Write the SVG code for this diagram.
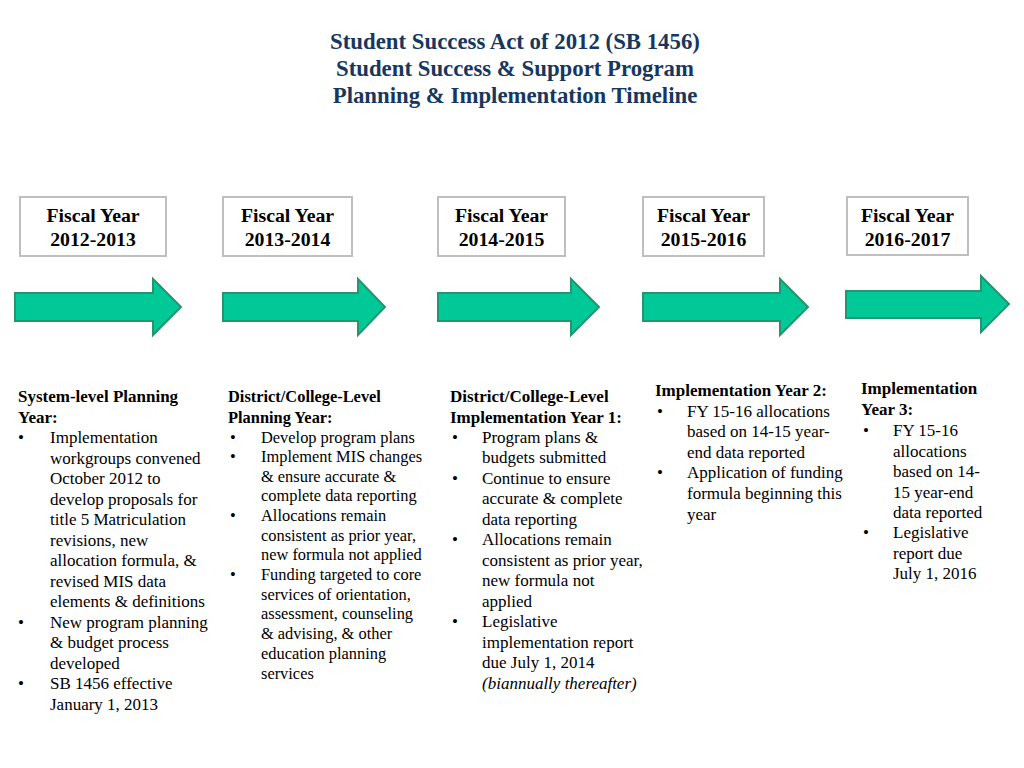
<svg xmlns="http://www.w3.org/2000/svg" width="1024" height="768" viewBox="0 0 1024 768">
<style>
.title{font-family:"Liberation Serif",serif;font-weight:bold;font-size:22.8px;fill:#17375E;text-anchor:middle}
.box{fill:#fff;stroke:#bfbfbf;stroke-width:2}
.fy{font-family:"Liberation Serif",serif;font-weight:bold;font-size:19.8px;fill:#000;text-anchor:middle}
.arrow{fill:#00C896;stroke:#25956F;stroke-width:2}
.t{font-family:"Liberation Serif",serif;font-size:17px;fill:#000}
.t2{font-family:"Liberation Serif",serif;font-size:16.4px;fill:#000}
.h{font-weight:bold}
.i{font-style:italic}
</style>
<rect width="1024" height="768" fill="#fff"/>
<g id="title">
<text class="title" x="515" y="49">Student Success Act of 2012 (SB 1456)</text>
<text class="title" x="515" y="76">Student Success &amp; Support Program</text>
<text class="title" x="515" y="103">Planning &amp; Implementation Timeline</text>
</g>
<g id="fy1">
<rect class="box" x="20" y="197" width="146" height="59"/>
<text class="fy" x="93" y="222">Fiscal Year</text>
<text class="fy" x="93" y="246">2012-2013</text>
</g>
<g id="fy2">
<rect class="box" x="223" y="197" width="129" height="59"/>
<text class="fy" x="287.5" y="222">Fiscal Year</text>
<text class="fy" x="287.5" y="246">2013-2014</text>
</g>
<g id="fy3">
<rect class="box" x="438" y="197" width="127" height="59"/>
<text class="fy" x="501.5" y="222">Fiscal Year</text>
<text class="fy" x="501.5" y="246">2014-2015</text>
</g>
<g id="fy4">
<rect class="box" x="643" y="197" width="121" height="59"/>
<text class="fy" x="703.5" y="222">Fiscal Year</text>
<text class="fy" x="703.5" y="246">2015-2016</text>
</g>
<g id="fy5">
<rect class="box" x="847" y="197" width="121" height="58"/>
<text class="fy" x="907.5" y="222">Fiscal Year</text>
<text class="fy" x="907.5" y="246">2016-2017</text>
</g>
<g id="connectors">
<polygon class="arrow" points="15,293 153,293 153,279 181,307 153,335 153,321 15,321"/>
<polygon class="arrow" points="223,293 358,293 358,279 385,307 358,335 358,321 223,321"/>
<polygon class="arrow" points="438,293 571,293 571,279 599,307 571,335 571,321 438,321"/>
<polygon class="arrow" points="643,293 780,293 780,279 808,307 780,335 780,321 643,321"/>
<polygon class="arrow" points="846,291 981,291 981,276 1009,304 981,332 981,318 846,318"/>
</g>
<g id="col1" class="t">
<text x="18" y="402" class="h">System-level Planning</text>
<text x="18" y="423" class="h">Year:</text>
<text x="18" y="443">•</text><text x="50" y="443">Implementation</text>
<text x="50" y="464">workgroups convened</text>
<text x="50" y="484">October 2012 to</text>
<text x="50" y="505">develop proposals for</text>
<text x="50" y="525">title 5 Matriculation</text>
<text x="50" y="546">revisions, new</text>
<text x="50" y="566">allocation formula, &amp;</text>
<text x="50" y="587">revised MIS data</text>
<text x="50" y="607">elements &amp; definitions</text>
<text x="18" y="628">•</text><text x="50" y="628">New program planning</text>
<text x="50" y="648">&amp; budget process</text>
<text x="50" y="669">developed</text>
<text x="18" y="689">•</text><text x="50" y="689">SB 1456 effective</text>
<text x="50" y="710">January 1, 2013</text>
</g>
<g id="col2" class="t2">
<text x="228" y="402" class="h">District/College-Level</text>
<text x="228" y="423" class="h">Planning Year:</text>
<text x="230" y="443">•</text><text x="261" y="443">Develop program plans</text>
<text x="230" y="462">•</text><text x="261" y="462">Implement MIS changes</text>
<text x="261" y="482">&amp; ensure accurate &amp;</text>
<text x="261" y="501">complete data reporting</text>
<text x="230" y="521">•</text><text x="261" y="521">Allocations remain</text>
<text x="261" y="541">consistent as prior year,</text>
<text x="261" y="560">new formula not applied</text>
<text x="230" y="580">•</text><text x="261" y="580">Funding targeted to core</text>
<text x="261" y="600">services of orientation,</text>
<text x="261" y="619">assessment, counseling</text>
<text x="261" y="639">&amp; advising, &amp; other</text>
<text x="261" y="659">education planning</text>
<text x="261" y="679">services</text>
</g>
<g id="col3" class="t">
<text x="450" y="402" class="h">District/College-Level</text>
<text x="450" y="423" class="h">Implementation Year 1:</text>
<text x="452" y="443">•</text><text x="482" y="443">Program plans &amp;</text>
<text x="482" y="463">budgets submitted</text>
<text x="452" y="484">•</text><text x="482" y="484">Continue to ensure</text>
<text x="482" y="504">accurate &amp; complete</text>
<text x="482" y="525">data reporting</text>
<text x="452" y="545">•</text><text x="482" y="545">Allocations remain</text>
<text x="482" y="566">consistent as prior year,</text>
<text x="482" y="586">new formula not</text>
<text x="482" y="607">applied</text>
<text x="452" y="627">•</text><text x="482" y="627">Legislative</text>
<text x="482" y="648">implementation report</text>
<text x="482" y="668">due July 1, 2014</text>
<text x="482" y="689" class="i">(biannually thereafter)</text>
</g>
<g id="col4" class="t">
<text x="655" y="396" class="h">Implementation Year 2:</text>
<text x="657" y="417">•</text><text x="687" y="417">FY 15-16 allocations</text>
<text x="687" y="437">based on 14-15 year-</text>
<text x="687" y="458">end data reported</text>
<text x="657" y="478">•</text><text x="687" y="478">Application of funding</text>
<text x="687" y="499">formula beginning this</text>
<text x="687" y="520">year</text>
</g>
<g id="col5" class="t">
<text x="861" y="394" class="h">Implementation</text>
<text x="861" y="415" class="h">Year 3:</text>
<text x="863" y="436">•</text><text x="893" y="436">FY 15-16</text>
<text x="893" y="457">allocations</text>
<text x="893" y="477">based on 14-</text>
<text x="893" y="498">15 year-end</text>
<text x="893" y="518">data reported</text>
<text x="863" y="538">•</text><text x="893" y="538">Legislative</text>
<text x="893" y="559">report due</text>
<text x="893" y="579">July 1, 2016</text>
</g>
</svg>
